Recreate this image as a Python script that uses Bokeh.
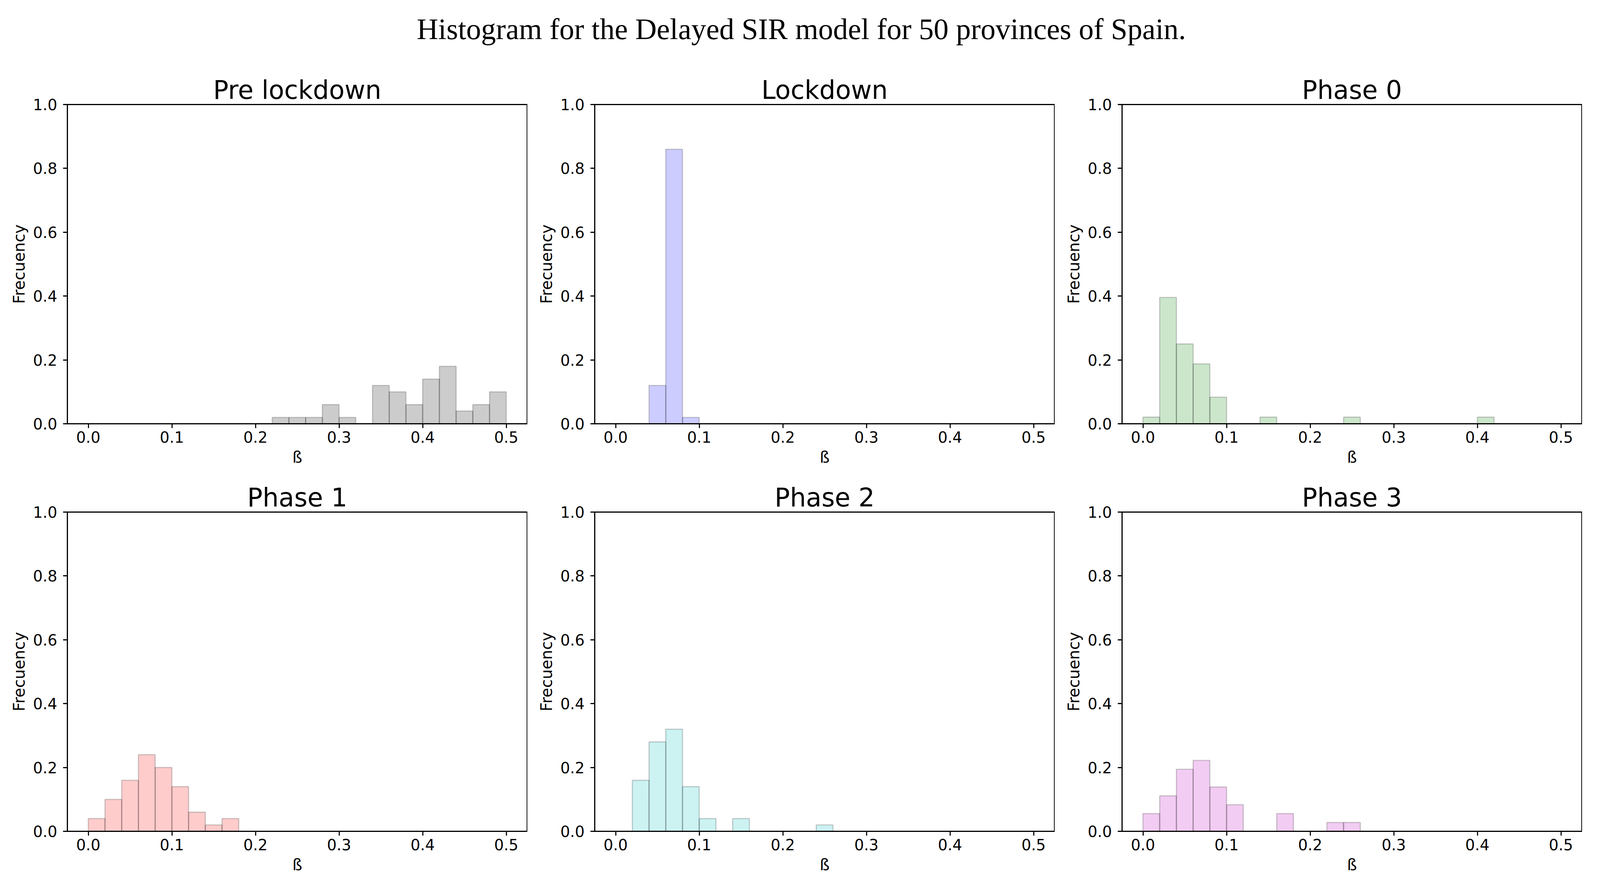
from bokeh.plotting import figure
from bokeh.layouts import column, row
from bokeh.models import FixedTicker, PrintfTickFormatter, Label
from bokeh.embed import file_html
from bokeh.resources import INLINE

suptitle = "Histogram for the Delayed SIR model for 50 provinces of Spain."
titles = ["Pre lockdown", "Lockdown", "Phase 0", "Phase 1", "Phase 2", "Phase 3"]
colors = ["#000000", "#0000ff", "#008000", "#ff0000", "#00bfbf", "#bf00bf"]

bin_edges = [0.00, 0.02, 0.04, 0.06, 0.08, 0.10, 0.12, 0.14, 0.16, 0.18, 0.20,
             0.22, 0.24, 0.26, 0.28, 0.30, 0.32, 0.34, 0.36, 0.38, 0.40,
             0.42, 0.44, 0.46, 0.48, 0.50]

pre_lockdown = [0, 0, 0, 0, 0, 0, 0, 0, 0, 0, 0,
                0.02, 0.02, 0.02, 0.06, 0.02, 0, 0.12, 0.10, 0.06,
                0.14, 0.18, 0.04, 0.06, 0.10]
lockdown = [0, 0, 0.12, 0.86, 0.02, 0, 0, 0, 0, 0, 0, 0, 0, 0, 0, 0, 0, 0, 0, 0,
            0, 0, 0, 0, 0]
phase0 = [0.0208, 0.3958, 0.25, 0.1875, 0.0833, 0, 0, 0.0208, 0, 0, 0, 0, 0.0208,
          0, 0, 0, 0, 0, 0, 0, 0.0208, 0, 0, 0, 0]
phase1 = [0.04, 0.10, 0.16, 0.24, 0.20, 0.14, 0.06, 0.02, 0.04, 0, 0, 0, 0, 0, 0,
          0, 0, 0, 0, 0, 0, 0, 0, 0, 0]
phase2 = [0, 0.16, 0.28, 0.32, 0.14, 0.04, 0, 0.04, 0, 0, 0, 0, 0.02, 0, 0, 0, 0,
          0, 0, 0, 0, 0, 0, 0, 0]
phase3 = [0.0556, 0.1111, 0.1944, 0.2222, 0.1389, 0.0833, 0, 0, 0.0556, 0, 0,
          0.0278, 0.0278, 0, 0, 0, 0, 0, 0, 0, 0, 0, 0, 0, 0]
series = [pre_lockdown, lockdown, phase0, phase1, phase2, phase3]

x_ticks = [0.0, 0.1, 0.2, 0.3, 0.4, 0.5]
y_ticks = [0.0, 0.2, 0.4, 0.6, 0.8, 1.0]

PW = 1350
FH = 817
SANS = "DejaVu Sans"


def make_panel(title, values, color, top, bottom):
    p = figure(width=PW, height=top + FH + bottom,
               x_range=(-0.025, 0.525), y_range=(0, 1),
               output_backend="svg", toolbar_location=None, title=title,
               min_border_left=172, min_border_right=1,
               min_border_top=top, min_border_bottom=bottom)
    p.title.align = "center"
    p.title.text_font = SANS
    p.title.text_font_size = "65px"
    p.title.text_font_style = "normal"
    p.title.text_color = "black"
    p.title.standoff = 0
    p.grid.visible = False
    p.outline_line_color = "black"
    p.outline_line_width = 2.8
    p.outline_line_alpha = 1
    p.background_fill_color = "white"
    p.border_fill_color = "white"

    p.quad(left=bin_edges[:-1], right=bin_edges[1:], bottom=0, top=values,
           fill_color=color, fill_alpha=0.2,
           line_color="black", line_alpha=0.2, line_width=2.8)

    p.xaxis.ticker = FixedTicker(ticks=x_ticks)
    p.yaxis.ticker = FixedTicker(ticks=y_ticks)
    p.axis.formatter = PrintfTickFormatter(format="%.1f")
    p.axis.minor_tick_line_color = None
    p.axis.major_tick_out = 11
    p.axis.major_tick_in = 0
    p.axis.major_tick_line_width = 2.8
    p.axis.axis_line_width = 2.8
    p.axis.major_label_text_font = SANS
    p.axis.major_label_text_font_size = "39px"
    p.axis.major_label_text_color = "black"
    p.axis.axis_label_text_font = SANS
    p.axis.axis_label_text_font_size = "40px"
    p.axis.axis_label_text_font_style = "normal"
    p.axis.axis_label_text_color = "black"
    p.xaxis.major_label_standoff = 8
    p.yaxis.major_label_standoff = 15
    p.xaxis.axis_label = "ß"
    p.yaxis.axis_label = "Frecuency"
    p.xaxis.axis_label_standoff = 11
    p.yaxis.axis_label_standoff = 9
    return p


panels = []
for i, (t, v, c) in enumerate(zip(titles, series, colors)):
    if i < 3:
        panels.append(make_panel(t, v, c, top=100, bottom=126))
    else:
        panels.append(make_panel(t, v, c, top=100, bottom=121))

SW, SH = 3 * PW, 167
sup = figure(width=SW, height=SH, x_range=(0, SW), y_range=(0, SH),
             output_backend="svg", toolbar_location=None,
             x_axis_location=None, y_axis_location=None, min_border=0)
sup.grid.visible = False
sup.outline_line_color = None
sup.add_layout(Label(x=2051, y=94, text=suptitle, text_align="center",
                     text_baseline="alphabetic", text_font="Liberation Serif",
                     text_font_size="76px", text_color="black"))

layout = column(sup, row(*panels[:3]), row(*panels[3:]))

with open("out.html", "w") as f:
    f.write(file_html(layout, INLINE))
